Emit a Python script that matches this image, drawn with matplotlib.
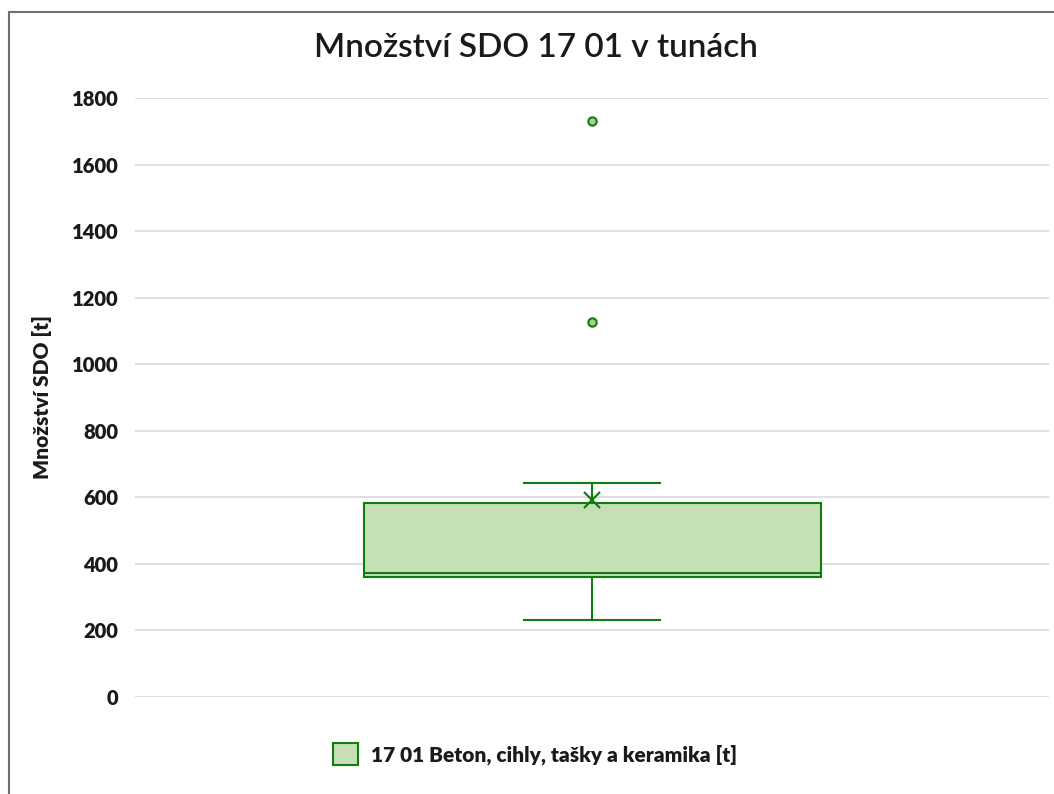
import matplotlib.pyplot as plt
from matplotlib.patches import Rectangle, Patch

# box and whisker statistics (tonnes)
series_label = '17 01 Beton, cihly, tašky a keramika [t]'
whisker_low = 230
q1 = 360
median = 373
q3 = 582
whisker_high = 643
mean = 592
outliers = [1126, 1731]

yticks = [0, 200, 400, 600, 800, 1000, 1200, 1400, 1600, 1800]

green = '#0f7d0f'
fill = '#c5e0b4'

plt.rcParams['font.family'] = ['Lato', 'DejaVu Sans']

fig = plt.figure(figsize=(10.54, 7.94), dpi=100)
ax = fig.add_axes([135 / 1054, 1 - 697 / 794, (1049 - 135) / 1054, (697 - 98) / 794])

stats = [{
    'whislo': whisker_low, 'q1': q1, 'med': median, 'q3': q3,
    'whishi': whisker_high, 'mean': mean, 'fliers': outliers,
}]
ax.bxp(stats, positions=[0], widths=0.5, showmeans=True, patch_artist=True,
       boxprops=dict(facecolor=fill, edgecolor=green, linewidth=1.5),
       medianprops=dict(color=green, linewidth=1.5),
       whiskerprops=dict(color=green, linewidth=1.5),
       capprops=dict(color=green, linewidth=1.5),
       capwidths=0.148,
       meanprops=dict(marker='x', markeredgecolor=green, markersize=11, markeredgewidth=1.6),
       flierprops=dict(marker='o', markerfacecolor='#a9d18e', markeredgecolor=green,
                       markersize=6, markeredgewidth=1.5))

ax.set_xlim(-0.5, 0.5)
ax.set_ylim(0, 1800)
ax.set_yticks(yticks)
ax.set_xticks([])
ax.yaxis.grid(True, color='#d9d9d9', linewidth=1.2)
ax.set_axisbelow(True)
for s in ax.spines.values():
    s.set_visible(False)
ax.tick_params(axis='y', length=0, pad=12, labelsize=14.5)
ax.set_yticklabels([str(v) for v in yticks], fontweight='heavy', color='#1a1a1a')

ax.set_ylabel('Množství SDO [t]', fontsize=15, fontweight='heavy', labelpad=14, color='#1a1a1a')

fig.text(536 / 1054, 1 - 48 / 794, 'Množství SDO 17 01 v tunách',
         ha='center', va='center', fontsize=24, fontweight='semibold', color='#1a1a1a')

handle = Patch(facecolor=fill, edgecolor=green, linewidth=1.5)
fig.legend([handle], [series_label], loc='center', bbox_to_anchor=(535 / 1054, 1 - 754 / 794),
           frameon=False, prop=dict(size=15, weight='heavy'), handlelength=1.2, handleheight=1.2,
           handletextpad=0.6, labelcolor='#1a1a1a')

fig.patches.append(Rectangle((9 / 1054, -0.1), 1.2, 1 - 12 / 794 + 0.1, transform=fig.transFigure,
                             fill=False, edgecolor='#707070', linewidth=1.5))

fig.savefig('out.png', dpi=100)
